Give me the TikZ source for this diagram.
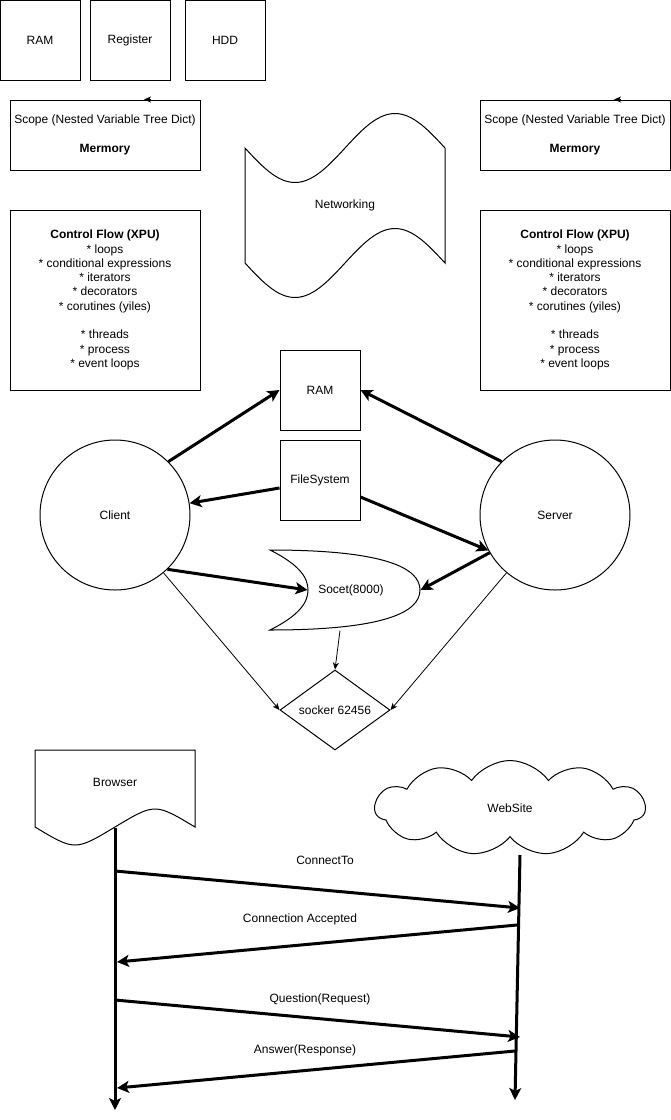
\documentclass[tikz,border=0pt]{standalone}
\usepackage{fontspec}
\setmainfont{Liberation Sans}
\usetikzlibrary{arrows.meta}
\usetikzlibrary{shapes.geometric,shapes.symbols}

\begin{document}
\begin{tikzpicture}[x=1pt,y=-1pt,
  font=\fontsize{12}{14.3}\selectfont,
  line width=1pt,
  box/.style={draw, rectangle, align=center, inner sep=0pt},
  bigarrow/.style={line width=3pt, -{Stealth[length=12pt,width=12pt,inset=3pt]}},
  thinarrow/.style={line width=0.8pt, -{Stealth[length=7pt,width=6pt,inset=2pt]}}]
%[scale=0.75,>=latex]

\useasboundingbox (0,0) rectangle (671,1120);

% Storage boxes at the top
\node[box, minimum width=80pt, minimum height=80pt] (ramTop) at (40,40) {RAM};
\node[box, minimum width=80pt, minimum height=80pt] (register) at (130,40) {Register};
\node[box, minimum width=80pt, minimum height=80pt] (hdd) at (225,40) {HDD};

% Scope boxes
\node[box, minimum width=190pt, minimum height=70pt] (scopeL) at (105,135)
  {Scope (Nested Variable Tree Dict)\\[14.3pt]\textbf{Mermory}};
\node[box, minimum width=190pt, minimum height=70pt] (scopeR) at (575,135)
  {Scope (Nested Variable Tree Dict)\\[14.3pt]\textbf{Mermory}};
\draw[thinarrow] ([xshift=46pt]scopeL.north) -- ([xshift=39pt]scopeL.north);
\draw[thinarrow] ([xshift=46pt]scopeR.north) -- ([xshift=39pt]scopeR.north);

% Control flow boxes
\node[box, minimum width=190pt, minimum height=180pt] (flowL) at (105,300)
  {\textbf{Control Flow (XPU)}\\* loops\\* conditional expressions\\* iterators\\
   * decorators\\* corutines (yiles)\\[14.3pt]* threads\\* process\\* event loops};
\node[box, minimum width=190pt, minimum height=180pt] (flowR) at (575,300)
  {\textbf{Control Flow (XPU)}\\* loops\\* conditional expressions\\* iterators\\
   * decorators\\* corutines (yiles)\\[14.3pt]* threads\\* process\\* event loops};

% Networking tape
\draw (245,148) -- plot[domain=0:200, samples=60] ({245+\x},{148+34.5*sin(1.8*\x)})
  -- plot[domain=200:0, samples=60] ({245+\x},{263+34.5*sin(1.8*\x)}) -- cycle;
\node (net) at (345,205) {Networking};

% Client, server and shared resources
\node[circle, draw, minimum size=150pt] (client) at (115,515) {Client};
\node[circle, draw, minimum size=150pt] (server) at (555,515) {Server};
\node[box, minimum width=80pt, minimum height=80pt] (ram) at (320,390) {RAM};
\node[box, minimum width=80pt, minimum height=80pt] (fs) at (320,480) {FileSystem};

% Socket shape
\draw (270,550) .. controls (300,565) and (308,578) .. (308,590)
  .. controls (308,602) and (300,615) .. (270,630)
  .. controls (385,630) and (420,612) .. (420,590)
  .. controls (420,568) and (385,550) .. cycle;
\node[minimum width=150pt, minimum height=80pt, inner sep=0pt] (socet) at (345,590) {\hspace*{12pt}Socet(8000)};

\node[diamond, draw, aspect=1.4, inner sep=0pt, minimum width=110pt, minimum height=80pt] (sock) at (335,710) {socker 62456};

% Thick connectors
\draw[bigarrow] (client.45) -- (ram.west);
\draw[bigarrow] (server.135) -- (ram.east);
\draw[bigarrow] ([yshift=-8pt]fs.west) -- (client.9);
\draw[bigarrow] ([yshift=-17pt]fs.east) -- (server.208);
\draw[bigarrow] (client.-46) -- ([xshift=38pt]socet.west);
\draw[bigarrow] (server.210) -- (socet.east);

% Thin connectors
\draw[thinarrow] ([xshift=-5pt]socet.south) -- (sock.north);
\draw[thinarrow] (client.-50) -- (sock.west);
\draw[thinarrow] (server.230) -- (sock.east);

% Browser document
\draw (35,827) -- (35,750) -- (195,750) -- (195,827)
  .. controls (155,803) .. (115,827) .. controls (75,851) .. (35,827);
\node (browser) at (115,782) {Browser};
\coordinate (bTop) at (115,828);
\coordinate (bEnd) at (115,1110);

% Website cloud
\node[cloud, draw, cloud puffs=11, cloud puff arc=110, aspect=2.8, inner sep=0pt,
  minimum width=270pt, minimum height=95pt] (website) at (510,808) {WebSite};
\coordinate (wTop) at (520,855);
\coordinate (wEnd) at (515,1100);

% Lifelines
\draw[bigarrow] (bTop) -- (bEnd);
\draw[bigarrow] (wTop) -- (wEnd);

% Messages
\coordinate (b1) at (115,871);  \coordinate (w1) at (520,908);
\coordinate (w2) at (517,925);  \coordinate (b2) at (117,962);
\coordinate (b3) at (115,1000); \coordinate (w3) at (520,1037);
\coordinate (w4) at (515,1051); \coordinate (b4) at (117,1088);
\draw[bigarrow] (b1) -- (w1);
\draw[bigarrow] (w2) -- (b2);
\draw[bigarrow] (b3) -- (w3);
\draw[bigarrow] (w4) -- (b4);
\node (connect) at (325,860) {ConnectTo};
\node (accepted) at (300,919) {Connection Accepted};
\node (request) at (320,999) {Question(Request)};
\node (response) at (305,1050) {Answer(Response)};
\end{tikzpicture}
\end{document}
